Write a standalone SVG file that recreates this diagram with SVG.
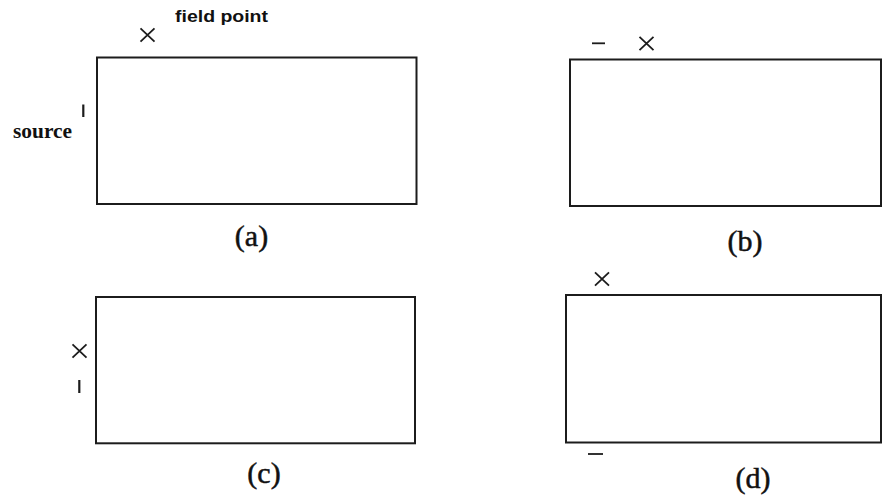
<svg xmlns="http://www.w3.org/2000/svg" width="882" height="500" viewBox="0 0 882 500">
<style>
.box{fill:none;stroke:#1c1c1c;stroke-width:2}
.mk{stroke:#1c1c1c;stroke-width:1.8;fill:none;stroke-linecap:butt}
.tick{stroke:#1c1c1c;stroke-width:2.2;fill:none}
.cap{font-family:"Liberation Serif","Times New Roman",serif;font-size:30px;fill:#111;stroke:#111;stroke-width:0.5;text-anchor:middle}
.lbl{fill:#111}
</style>
<rect x="0" y="0" width="882" height="500" fill="#ffffff"/>
<defs>
<g id="cross"><path class="mk" d="M-7,-6.7 L7,6.7 M-7,6.7 L7,-6.7"/></g>
</defs>
<g id="panel-a">
<rect class="box" x="97" y="57.5" width="319.5" height="146.5"/>
<use href="#cross" x="147.5" y="35"/>
<text class="lbl" x="175" y="21.5" font-family="Liberation Sans, Arial, sans-serif" font-weight="bold" font-size="16" textLength="93" lengthAdjust="spacingAndGlyphs">field point</text>
<text class="lbl" x="13" y="138" font-family="Liberation Serif, Times New Roman, serif" font-weight="bold" font-size="21" textLength="59" lengthAdjust="spacingAndGlyphs">source</text>
<path class="tick" d="M83.3,104.5 V117"/>
<text class="cap" x="251.5" y="245.7">(a)</text>
</g>
<g id="panel-b">
<rect class="box" x="570" y="59.5" width="311" height="146.5"/>
<path class="mk" d="M592,43.3 H605"/>
<use href="#cross" x="646.5" y="43.5"/>
<text class="cap" x="745" y="251.4">(b)</text>
</g>
<g id="panel-c">
<rect class="box" x="96" y="297" width="319" height="146.3"/>
<use href="#cross" x="79.5" y="351"/>
<path class="tick" d="M79.3,380 V393"/>
<text class="cap" x="264" y="482.7">(c)</text>
</g>
<g id="panel-d">
<rect class="box" x="566" y="295" width="315" height="147.5"/>
<use href="#cross" x="602" y="279"/>
<path class="mk" d="M588,454 H603"/>
<text class="cap" x="753" y="488">(d)</text>
</g>
<g id="connectors"></g>
</svg>
